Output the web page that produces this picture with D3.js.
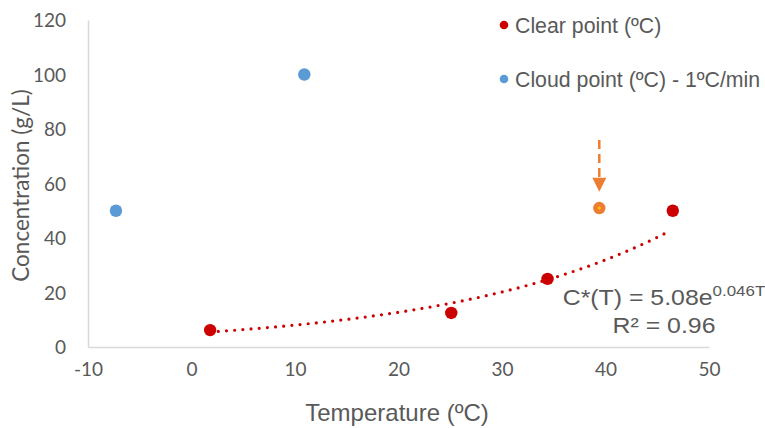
<!DOCTYPE html>
<html>
<head>
<meta charset="utf-8">
<script src="https://cdn.jsdelivr.net/npm/d3@7"></script>
<style>
  html, body { margin: 0; padding: 0; background: #fff; }
  svg { display: block; }
</style>
</head>
<body>
<svg id="chart" width="765" height="428"></svg>
<script>
// Measured points: temperature (ºC) vs concentration (g/L)
const clearT = [1.8, 25.1, 34.4, 46.5];
const clearC = [6.2, 12.5, 25, 50];
const cloudT = [-7.3, 10.9];
const cloudC = [50, 100];
const predictedT = [39.4];
const predictedC = [51];

// Exponential fit of the clear points: C*(T) = a·e^(bT)
const fitA = 5.08;
const fitB = 0.046;
const fitR2 = 0.96;

const xTicks = [-10, 0, 10, 20, 30, 40, 50];
const yTicks = [0, 20, 40, 60, 80, 100, 120];

const legendLabels = ["Clear point (ºC)", "Cloud point (ºC) - 1ºC/min"];

// Arrow annotation above the predicted point (data units)
const arrowFrom = 76;
const arrowTo = 57;

const svg = d3.select("#chart");
const margin = { left: 88, right: 56, top: 20, bottom: 81 };
const W = 765, H = 428;

const x = d3.scaleLinear().domain([-10, 50]).range([margin.left, W - margin.right]);
const y = d3.scaleLinear().domain([0, 120]).range([H - margin.bottom, margin.top]);

const grey = "#595959";
const axisColor = "#D9D9D9";
const red = "#CC0000";
const blue = "#5B9BD5";
const orange = "#ED7D31";
const tickFont = "Lato, 'Open Sans', sans-serif";
const textFont = "'Liberation Sans', Arial, sans-serif";

// Axes (lines only, no tick marks)
const xAxis = d3.axisBottom(x).tickValues(xTicks).tickFormat(d => String(d)).tickSize(0).tickPadding(16);
const yAxis = d3.axisLeft(y).tickValues(yTicks).tickFormat(d => String(d)).tickSize(0).tickPadding(22);

const gx = svg.append("g").attr("transform", `translate(0,${y(0)})`).call(xAxis);
const gy = svg.append("g").attr("transform", `translate(${x(-10)},0)`).call(yAxis);

[gx, gy].forEach(g => {
  g.select(".domain").attr("stroke", axisColor).attr("stroke-width", 1.5);
  g.selectAll("text")
    .attr("fill", grey)
    .style("font-family", tickFont)
    .style("font-size", "19px");
});
gx.selectAll("text").attr("dy", "0.71em");
gy.selectAll("text").attr("dy", "0.36em");

// Axis titles
svg.append("text")
  .attr("x", 397)
  .attr("y", 421)
  .attr("text-anchor", "middle")
  .attr("fill", grey)
  .style("font-family", textFont)
  .style("font-size", "24px")
  .text("Temperature (ºC)");

svg.append("text")
  .attr("transform", `translate(29,${(y(0) + y(120)) / 2 + 2}) rotate(-90)`)
  .attr("text-anchor", "middle")
  .attr("fill", grey)
  .style("font-family", tickFont)
  .style("font-size", "22.5px")
  .text("Concentration (g/L)");

// Trendline over the range of the clear points
const fitT = d3.range(clearT[0], d3.max(clearT) + 0.001, 0.25);
const line = d3.line().x(t => x(t)).y(t => y(fitA * Math.exp(fitB * t)));
svg.append("path")
  .datum(fitT)
  .attr("d", line)
  .attr("fill", "none")
  .attr("stroke", red)
  .attr("stroke-width", 3.2)
  .attr("stroke-linecap", "round")
  .attr("stroke-dasharray", "0,8.2");

// Cloud points
svg.append("g").selectAll("circle")
  .data(cloudT.map((t, i) => [t, cloudC[i]]))
  .join("circle")
  .attr("cx", d => x(d[0])).attr("cy", d => y(d[1]))
  .attr("r", 6.2).attr("fill", blue);

// Clear points
svg.append("g").selectAll("circle")
  .data(clearT.map((t, i) => [t, clearC[i]]))
  .join("circle")
  .attr("cx", d => x(d[0])).attr("cy", d => y(d[1]))
  .attr("r", 6.2).attr("fill", red);

// Predicted point with arrow
const pg = svg.append("g");
predictedT.forEach((t, i) => {
  pg.append("circle").attr("cx", x(t)).attr("cy", y(predictedC[i])).attr("r", 6.2).attr("fill", orange);
  pg.append("circle").attr("cx", x(t)).attr("cy", y(predictedC[i])).attr("r", 1.6).attr("fill", "#FFC000");
  const ax = x(t);
  const tipY = y(arrowTo);
  pg.append("line")
    .attr("x1", ax).attr("x2", ax)
    .attr("y1", y(arrowFrom)).attr("y2", tipY - 14)
    .attr("stroke", orange).attr("stroke-width", 2.5)
    .attr("stroke-dasharray", "9,5");
  pg.append("path")
    .attr("d", `M${ax - 7},${tipY - 14}L${ax + 7},${tipY - 14}L${ax},${tipY}Z`)
    .attr("fill", orange);
});

// Fit equation (slightly widened lettering)
const eqX = 664;
const eqG = svg.append("g").attr("transform", `translate(${eqX},0) scale(1.13,1)`);
const eq = eqG.append("text")
  .attr("x", 0).attr("y", 305)
  .attr("text-anchor", "middle")
  .attr("fill", grey)
  .style("font-family", textFont)
  .style("font-size", "22px");
eq.append("tspan").text(`C*(T) = ${fitA.toFixed(2)}e`);
eq.append("tspan").attr("dy", -9).style("font-size", "15px").text(`${fitB}T`);

eqG.append("text")
  .attr("x", 0).attr("y", 333)
  .attr("text-anchor", "middle")
  .attr("fill", grey)
  .style("font-family", textFont)
  .style("font-size", "22px")
  .text(`R² = ${fitR2.toFixed(2)}`);

// Legend
const legendColors = [red, blue];
const lg = svg.append("g");
legendLabels.forEach((label, i) => {
  const ly = 25 + i * 54;
  lg.append("circle").attr("cx", 504).attr("cy", ly).attr("r", 4.3).attr("fill", legendColors[i]);
  lg.append("text")
    .attr("x", 515).attr("y", ly + 8)
    .attr("fill", grey)
    .style("font-family", textFont)
    .style("font-size", "21.3px")
    .text(label);
});
</script>
</body>
</html>
